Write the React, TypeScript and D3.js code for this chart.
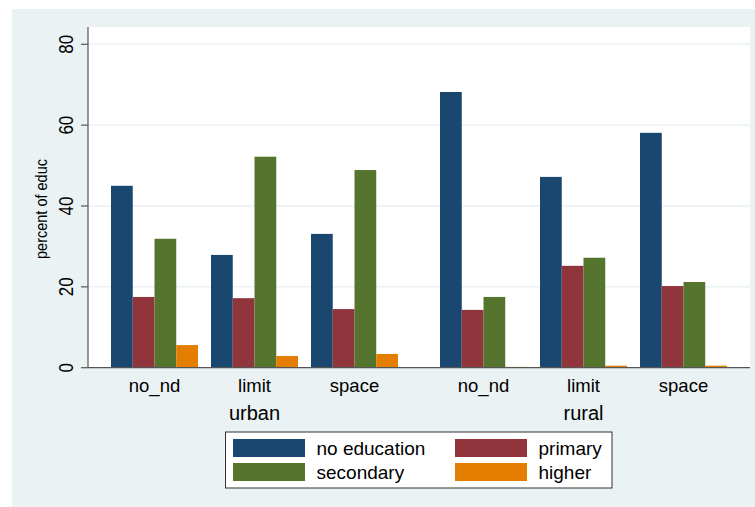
import React from "react";
import * as d3 from "d3";

// Percent of educational attainment by area and fertility-intention group
const areas = ["urban", "rural"];
const groups = ["no_nd", "limit", "space"];
const levels = ["no education", "primary", "secondary", "higher"];

// values per level: urban no_nd, limit, space, rural no_nd, limit, space
const noEducation = [45.0, 27.9, 33.1, 68.2, 47.2, 58.1];
const primary = [17.5, 17.2, 14.5, 14.3, 25.2, 20.2];
const secondary = [31.9, 52.2, 48.9, 17.5, 27.2, 21.2];
const higher = [5.6, 2.9, 3.4, 0.2, 0.5, 0.5];

const yTicks = [0, 20, 40, 60, 80];
const colors = ["#1a476f", "#90353b", "#55752f", "#e37e00"];

const W = 755;
const H = 507;
const FONT = "'Liberation Sans', Arial, sans-serif";

export default function App() {
  const series = [noEducation, primary, secondary, higher];

  const plotLeft = 88;
  const plotRight = 750;
  const plotTop = 27;
  const y = d3.scaleLinear().domain([0, 80]).range([367.7, 44.3]);
  const y0 = y(0);

  const xArea = d3
    .scaleBand<string>()
    .domain(areas)
    .range([111, 727])
    .paddingInner(42 / 329)
    .paddingOuter(0);
  const xGroup = d3
    .scaleBand<string>()
    .domain(groups)
    .range([0, xArea.bandwidth()])
    .paddingInner(0.13)
    .paddingOuter(0);
  const xLevel = d3
    .scaleBand<string>()
    .domain(levels)
    .range([0, xGroup.bandwidth()])
    .padding(0);

  const bars: React.ReactNode[] = [];
  areas.forEach((a, ai) => {
    groups.forEach((g, gi) => {
      const idx = ai * groups.length + gi;
      const gx = (xArea(a) ?? 0) + (xGroup(g) ?? 0);
      levels.forEach((l, li) => {
        const v = series[li][idx];
        bars.push(
          <rect
            key={`${a}-${g}-${l}`}
            x={gx + (xLevel(l) ?? 0)}
            y={y(v)}
            width={xLevel.bandwidth()}
            height={y0 - y(v)}
            fill={colors[li]}
          />
        );
      });
    });
  });

  const legendItems = [
    { label: levels[0], c: colors[0], sx: 233, ty: 439 },
    { label: levels[1], c: colors[1], sx: 455, ty: 439 },
    { label: levels[2], c: colors[2], sx: 233, ty: 463 },
    { label: levels[3], c: colors[3], sx: 455, ty: 463 },
  ];

  return (
    <svg
      width={W}
      height={H}
      style={{ position: "absolute", left: 0, top: 0, background: "#ffffff" }}
      fontFamily={FONT}
    >
      <rect x={12} y={9} width={W - 12} height={H - 9} fill="#eaf2f3" />
      <rect
        x={plotLeft}
        y={plotTop}
        width={plotRight - plotLeft}
        height={y0 - plotTop}
        fill="#ffffff"
      />
      {yTicks.slice(1).map((t) => (
        <line
          key={`g${t}`}
          x1={plotLeft}
          x2={plotRight}
          y1={y(t)}
          y2={y(t)}
          stroke="#eaf2f3"
          strokeWidth={1.5}
        />
      ))}
      {bars}
      {/* axes */}
      <line x1={plotLeft} x2={plotLeft} y1={plotTop} y2={y0} stroke="#555" strokeWidth={1.2} />
      <line x1={plotLeft} x2={plotRight} y1={y0} y2={y0} stroke="#555" strokeWidth={1.2} />
      {yTicks.map((t) => (
        <g key={`t${t}`}>
          <line x1={plotLeft - 7} x2={plotLeft} y1={y(t)} y2={y(t)} stroke="#555" strokeWidth={1.2} />
          <text
            transform={`translate(72.5,${y(t)}) rotate(-90) scale(1,1.15)`}
            textAnchor="middle"
            fontSize={17}
            fill="#000"
          >
            {t}
          </text>
        </g>
      ))}
      <text
        transform={`translate(47,209) rotate(-90) scale(1,1.1)`}
        textAnchor="middle"
        fontSize={14.5}
        fill="#000"
      >
        percent of educ
      </text>
      {/* category labels */}
      {areas.map((a) =>
        groups.map((g) => (
          <text
            key={`l${a}${g}`}
            x={(xArea(a) ?? 0) + (xGroup(g) ?? 0) + xGroup.bandwidth() / 2}
            y={391.5}
            textAnchor="middle"
            fontSize={18.5}
            fill="#000"
          >
            {g}
          </text>
        ))
      )}
      {areas.map((a) => (
        <text
          key={`a${a}`}
          x={(xArea(a) ?? 0) + xArea.bandwidth() / 2}
          y={420}
          textAnchor="middle"
          fontSize={20}
          fill="#000"
        >
          {a}
        </text>
      ))}
      {/* legend */}
      <rect x={225.5} y={432} width={386.5} height={56} fill="#ffffff" stroke="#333" strokeWidth={1} />
      {legendItems.map((it) => (
        <g key={it.label}>
          <rect x={it.sx} y={it.ty} width={72} height={18} fill={it.c} />
          <text x={it.sx + 83.5} y={it.ty + 16} fontSize={19} fill="#000">
            {it.label}
          </text>
        </g>
      ))}
    </svg>
  );
}
